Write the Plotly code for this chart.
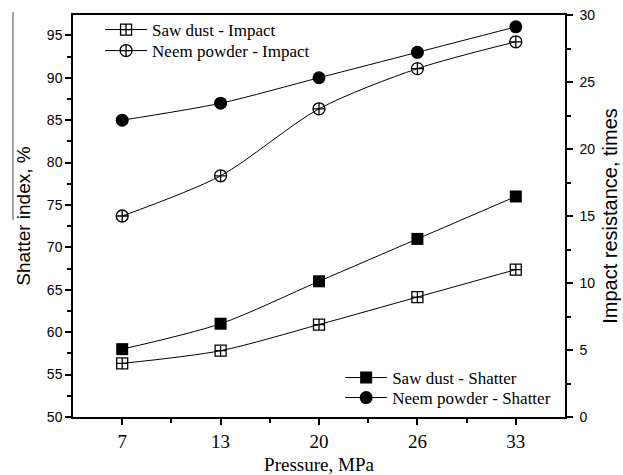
import plotly.graph_objects as go

pressure_labels = ["7", "13", "20", "26", "33"]
x_idx = [0, 1, 2, 3, 4]

saw_shatter = [58, 61, 66, 71, 76]
neem_shatter = [85, 87, 90, 93, 96]
saw_impact = [4.0, 4.95, 6.9, 8.95, 11.0]
neem_impact = [15.0, 18.0, 23.0, 26.0, 28.0]

serif = "Liberation Serif"
sans = "Liberation Sans"

fig = go.Figure()

line = dict(color="black", width=1, shape="spline", smoothing=0.8)

fig.add_trace(go.Scatter(x=x_idx, y=saw_impact, yaxis="y2", name="Saw dust - Impact",
                         mode="lines+markers", line=line,
                         marker=dict(symbol="square-cross-open", size=11, color="black",
                                     line=dict(width=1.3, color="black")),
                         legend="legend"))
fig.add_trace(go.Scatter(x=x_idx, y=neem_impact, yaxis="y2", name="Neem powder - Impact",
                         mode="lines+markers", line=line,
                         marker=dict(symbol="circle-cross-open", size=12, color="black",
                                     line=dict(width=1.3, color="black")),
                         legend="legend2"))
fig.add_trace(go.Scatter(x=x_idx, y=saw_shatter, yaxis="y", name="Saw dust - Shatter",
                         mode="lines+markers", line=line,
                         marker=dict(symbol="square", size=12, color="black"),
                         legend="legend3"))
fig.add_trace(go.Scatter(x=x_idx, y=neem_shatter, yaxis="y", name="Neem powder - Shatter",
                         mode="lines+markers", line=line,
                         marker=dict(symbol="circle", size=13, color="black"),
                         legend="legend4"))

axis_common = dict(showline=True, linecolor="black", linewidth=1.5, ticks="outside",
                   tickcolor="black", tickwidth=1.5, ticklen=6, showgrid=False,
                   zeroline=False, automargin=False)


def leg(x, y):
    return dict(x=x, y=y, xanchor="left", yanchor="middle", bgcolor="rgba(0,0,0,0)",
                font=dict(family=serif, size=17, color="black"), itemwidth=42, visible=True)


fig.update_layout(
    width=623, height=475,
    showlegend=True,
    margin=dict(l=73, r=58, t=15, b=58),
    paper_bgcolor="white", plot_bgcolor="white",
    font=dict(family=serif, size=16, color="black"),
    xaxis=dict(**axis_common, range=[-0.5, 4.5], tickvals=x_idx, ticktext=pressure_labels,
               mirror=True,
               minor=dict(ticks="outside", tickvals=[0.5, 1.5, 2.5, 3.5], ticklen=4,
                          tickcolor="black", tickwidth=1.5),
               tickfont=dict(family=serif, size=19, color="black"),
               title=dict(text="Pressure, MPa", font=dict(family=serif, size=19, color="black"),
                          standoff=7)),
    yaxis=dict(**axis_common, range=[50, 97.4], tickvals=[50, 55, 60, 65, 70, 75, 80, 85, 90, 95],
               minor=dict(ticks="outside", dtick=2.5, tick0=50, ticklen=4,
                          tickcolor="black", tickwidth=1.5),
               tickfont=dict(family=sans, size=14, color="black"),
               title=dict(text="Shatter index, %", font=dict(family=sans, size=19, color="black"),
                          standoff=11)),
    yaxis2=dict(**axis_common, overlaying="y", side="right", range=[0, 30],
                tickvals=[0, 5, 10, 15, 20, 25, 30],
                minor=dict(ticks="outside", dtick=2.5, tick0=0, ticklen=4,
                           tickcolor="black", tickwidth=1.5),
                tickfont=dict(family=sans, size=14, color="black"),
                ticklabelstandoff=4,
                title=dict(text="Impact resistance, times",
                           font=dict(family=sans, size=20, color="black"), standoff=9)),
    legend=leg(0.055, 0.9627),
    legend2=leg(0.055, 0.9104),
    legend3=leg(0.543, 0.0970),
    legend4=leg(0.543, 0.0473),
    shapes=[dict(type="line", xref="paper", yref="paper", x0=-0.122, x1=-0.122,
                 y0=1.007, y1=0.49, line=dict(color="#444", width=1))],
)

fig.write_html("out.html")
